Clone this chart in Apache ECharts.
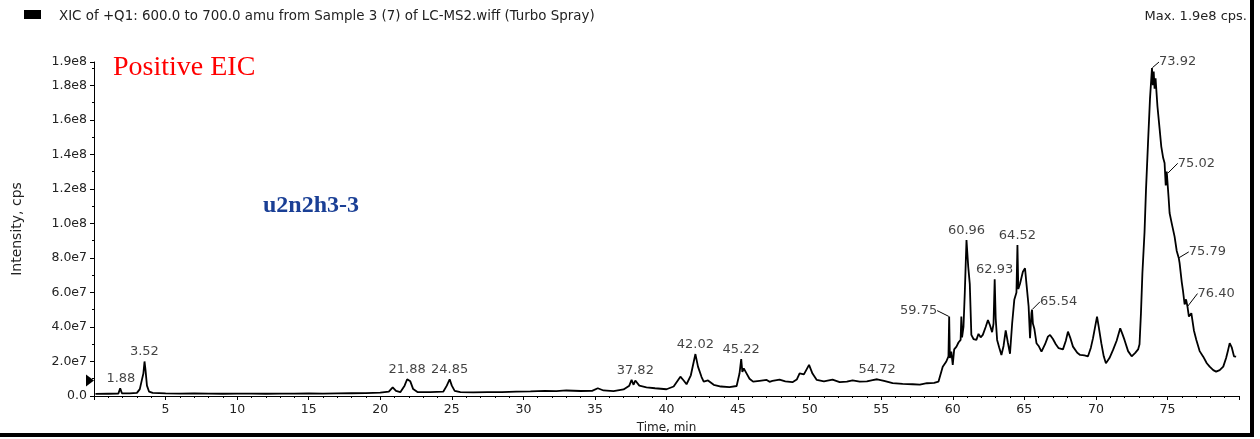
<!DOCTYPE html>
<html><head><meta charset="utf-8">
<script src="https://cdn.jsdelivr.net/npm/echarts@6/dist/echarts.min.js"></script>
<style>html,body{margin:0;padding:0;background:#fff}#c{width:1260px;height:439px}</style>
</head><body><div id="c"></div>
<script>
// ---- data: [time (min), intensity (cps)] ----
const traceEarly = [
  [0.1,1.2e6],[1.0,1.3e6],[1.7,1.4e6],[1.83,4.5e6],[1.95,1.6e6],[2.5,1.5e6],[3.0,1.8e6],[3.2,4.0e6],
  [3.35,9.5e6],[3.45,1.3e7],[3.53,2.0e7],[3.6,1.5e7],[3.7,6.0e6],[3.85,2.5e6],[4.1,1.8e6],[5,1.5e6],
  [6,1.4e6],[7,1.5e6],[8,1.4e6],[9,1.3e6],[10,1.4e6],[11,1.4e6],[12,1.3e6],[13,1.4e6],[14,1.4e6],
  [15,1.5e6],[16,1.4e6],[17,1.5e6],[18,1.6e6],[19,1.7e6],[20,1.9e6],[20.6,2.5e6],[20.87,5.0e6],
  [21.1,3.0e6],[21.4,2.2e6],[21.7,6.0e6],[21.88,9.7e6],[22.1,8.5e6],[22.3,4.0e6],[22.6,2.3e6],
  [23.5,2.2e6],[24.4,2.5e6],[24.65,6.0e6],[24.85,9.7e6],[25.0,6.0e6],[25.2,3.0e6],[25.6,2.2e6],
  [26.5,2.1e6],[27.5,2.2e6],[28.5,2.3e6],[29.5,2.5e6],[30.5,2.7e6],[31.5,3.0e6],[32.3,2.8e6],
  [33.0,3.2e6],[34.0,2.9e6],[34.8,3.0e6],[35.2,4.5e6],[35.6,3.2e6],[36.3,2.8e6]
];
const traceMid = [
  [37.0,3.8e6],[37.4,6.0e6],[37.56,9.3e6],[37.7,6.5e6],[37.82,9.0e6],[38.1,6.0e6],[38.6,5.0e6],
  [39.2,4.5e6],[40.0,3.9e6],[40.5,5.5e6],[40.97,1.12e7],[41.2,9.0e6],[41.4,6.8e6],[41.7,1.2e7],
  [42.02,2.43e7],[42.2,1.7e7],[42.45,1.1e7],[42.6,8.3e6],[42.9,9.0e6],[43.3,6.5e6],[43.8,5.5e6],
  [44.4,5.2e6],[44.9,5.8e6],[45.1,1.3e7],[45.22,2.14e7],[45.3,1.4e7],[45.4,1.6e7],[45.6,1.3e7],[45.8,1.0e7],
  [46.05,8.3e6],[46.5,8.8e6],[47.0,9.3e6],[47.2,8.2e6],[47.4,8.7e6],[47.9,9.5e6],[48.3,8.5e6],[48.8,8.0e6],
  [49.1,9.5e6],[49.3,1.31e7],[49.6,1.25e7],[49.96,1.8e7],[50.2,1.3e7],[50.5,9.3e6],[51.0,8.5e6],
  [51.6,9.5e6],[52.1,8.0e6],[52.6,8.3e6],[53.0,9.0e6],[53.5,8.3e6],[54.0,8.5e6],[54.4,9.2e6],
  [54.72,9.7e6],[55.2,8.8e6],[55.8,7.4e6],[56.5,7.0e6],[57.2,6.8e6],[57.7,6.6e6],[58.2,7.4e6],
  [58.7,7.6e6],[59.0,8.3e6]
];
const traceLate = [
  [59.3,1.7e7],[59.55,2.0e7],[59.7,2.3e7],[59.75,4.6e7],[59.8,2.2e7],[59.9,2.57e7],[60.0,1.8e7],
  [60.1,2.7e7],[60.26,2.86e7],[60.4,3.1e7],[60.55,3.25e7],[60.6,4.6e7],[60.65,3.4e7],[60.75,4.0e7],
  [60.84,5.95e7],[60.96,9.04e7],[61.08,7.5e7],[61.19,6.5e7],[61.3,3.54e7],[61.45,3.3e7],[61.65,3.25e7],
  [61.8,3.6e7],[61.95,3.4e7],[62.1,3.54e7],[62.3,4.0e7],[62.46,4.4e7],[62.6,4.1e7],[62.75,3.7e7],
  [62.85,4.2e7],[62.93,6.76e7],[63.0,4.5e7],[63.1,3.25e7],[63.25,2.8e7],[63.4,2.38e7],[63.55,2.9e7],
  [63.7,3.8e7],[63.85,3.1e7],[64.0,2.45e7],[64.15,4.2e7],[64.3,5.57e7],[64.45,6.0e7],[64.52,8.75e7],
  [64.58,6.2e7],[64.7,6.5e7],[64.9,7.2e7],[65.05,7.4e7],[65.15,6.5e7],[65.3,5.2e7],[65.4,3.35e7],
  [65.5,4.8e7],[65.54,5.0e7],[65.6,4.2e7],[65.7,3.9e7],[65.85,3.06e7],[66.0,2.9e7],[66.2,2.57e7],
  [66.45,3.0e7],[66.65,3.44e7],[66.8,3.54e7],[67.0,3.3e7],[67.2,3.0e7],[67.4,2.77e7],[67.7,2.7e7],
  [67.9,3.2e7],[68.05,3.73e7],[68.2,3.4e7],[68.4,2.86e7],[68.7,2.5e7],[68.9,2.38e7],[69.2,2.35e7],
  [69.45,2.3e7],[69.65,2.8e7],[69.8,3.35e7],[70.08,4.6e7],[70.2,4.0e7],[70.38,3.06e7],[70.55,2.3e7],
  [70.7,1.9e7],[70.95,2.2e7],[71.2,2.67e7],[71.45,3.2e7],[71.7,3.92e7],[71.85,3.6e7],[72.0,3.25e7],
  [72.25,2.6e7],[72.5,2.3e7],[72.75,2.5e7],[72.95,2.7e7]
];
const traceMainPeak = [
  [73.05,3.0e7],[73.15,4.8e7],[73.25,7.1e7],[73.4,9.5e7],[73.5,1.19e8],[73.64,1.46e8],[73.78,1.72e8],
  [73.92,1.9e8],[73.98,1.8e8],[74.04,1.88e8],[74.1,1.78e8],[74.17,1.84e8],[74.3,1.68e8],[74.45,1.55e8],
  [74.57,1.445e8],[74.7,1.38e8],[74.8,1.35e8],[74.88,1.22e8],[74.95,1.3e8],[75.02,1.29e8],[75.08,1.15e8],
  [75.15,1.06e8],[75.3,1.0e8],[75.5,9.23e7],[75.65,8.4e7],[75.79,8.0e7],[75.85,7.7e7],[76.0,6.6e7],
  [76.08,6.14e7],[76.2,5.3e7],[76.3,5.6e7],[76.4,5.18e7],[76.5,4.6e7],[76.67,4.8e7],[76.85,3.8e7],
  [77.02,3.25e7],[77.25,2.6e7],[77.5,2.28e7],[77.75,1.9e7],[77.95,1.7e7],[78.2,1.5e7],[78.4,1.41e7],
  [78.65,1.5e7],[78.9,1.7e7],[79.1,2.2e7],[79.24,2.67e7],[79.35,3.06e7],[79.5,2.8e7],[79.65,2.3e7],
  [79.8,2.28e7]
];
// labelled peaks (label above the peak)
const peakTimes = [1.88, 3.52, 21.88, 24.85, 37.82, 42.02, 45.22, 54.72, 60.96, 62.93, 64.52];
const peakIntensities = [4.5e6, 2.0e7, 9.7e6, 9.7e6, 9.0e6, 2.43e7, 2.14e7, 9.7e6, 9.04e7, 6.76e7, 8.75e7];
// labelled peaks with leader lines
const leaderTimes = [59.75, 65.54, 73.92, 75.02, 75.79, 76.40];
const leaderIntensities = [4.6e7, 5.0e7, 1.9e8, 1.29e8, 8.0e7, 5.18e7];
const leaderSide = ['left', 'right', 'right', 'right', 'right', 'right'];
// threshold marker on the intensity axis
const thresholdMarker = [0, 9.0e6];
// axis ticks
const xTickLabels = ['', '5', '10', '15', '20', '25', '30', '35', '40', '45', '50', '55', '60', '65', '70', '75', ''];
const yTickLabels = ['0.0', '2.0e7', '4.0e7', '6.0e7', '8.0e7', '1.0e8', '1.2e8', '1.4e8', '1.6e8', '1.8e8', '1.9e8'];

const trace = traceEarly.concat(traceMid, traceLate, traceMainPeak);
const peaks = peakTimes.map((t, i) => [t, peakIntensities[i]]);
const leaders = leaderTimes.map((t, i) => [t, leaderIntensities[i]]);

const FONT = '"DejaVu Sans", Verdana, sans-serif';
const chart = echarts.init(document.getElementById('c'), null, {renderer: 'canvas'});
chart.setOption({
  animation: false,
  backgroundColor: '#fff',
  grid: {left: 94, right: 21, top: 62, bottom: 43, containLabel: false, outerBoundsMode: 'none'},
  xAxis: {
    type: 'value', min: 0, max: 80, interval: 5,
    name: 'Time, min', nameLocation: 'middle', nameGap: 26,
    nameTextStyle: {fontFamily: FONT, fontSize: 12, color: '#222'},
    axisLine: {lineStyle: {color: '#000', width: 1}},
    axisTick: {show: true, length: 4, lineStyle: {color: '#000'}},
    minorTick: {show: true, splitNumber: 5, length: 2, lineStyle: {color: '#000'}},
    splitLine: {show: false},
    axisLabel: {fontFamily: FONT, fontSize: 12.5, color: '#222', margin: 7,
      formatter: (v, i) => xTickLabels[i] !== undefined ? xTickLabels[i] : ''}
  },
  yAxis: {
    type: 'value', min: 0, max: 1.935e8, interval: 2e7,
    name: 'Intensity, cps', nameLocation: 'middle', nameGap: 70, nameRotate: 90,
    nameTextStyle: {fontFamily: FONT, fontSize: 14, color: '#222'},
    axisLine: {show: true, lineStyle: {color: '#000', width: 1}},
    axisTick: {show: true, length: 4, lineStyle: {color: '#000'}},
    minorTick: {show: true, splitNumber: 2, length: 2, lineStyle: {color: '#000'}},
    splitLine: {show: false},
    axisLabel: {fontFamily: FONT, fontSize: 12.5, color: '#222', margin: 7,
      formatter: (v, i) => yTickLabels[i] !== undefined ? yTickLabels[i] : ''}
  },
  series: [
    {
      type: 'line', data: trace, symbol: 'none', smooth: false,
      lineStyle: {color: '#000', width: 1.8}, silent: true,
      markPoint: {
        silent: true,
        data: [{coord: thresholdMarker, symbol: 'triangle', symbolRotate: -90,
          symbolSize: [12, 8], symbolOffset: [-4, 0], itemStyle: {color: '#000'}, label: {show: false}}]
      }
    },
    {
      type: 'scatter', data: peaks, symbolSize: 0, silent: true,
      label: {show: true, position: 'top', distance: 3, fontFamily: FONT, fontSize: 13, color: '#111',
        formatter: p => p.value[0].toFixed(2)}
    },
    {
      type: 'scatter', data: leaders, symbolSize: 1, itemStyle: {color: 'rgba(0,0,0,0)'}, silent: true,
      label: {show: true, position: 'right', fontFamily: FONT, fontSize: 13, color: '#111',
        formatter: p => p.value[0].toFixed(2)},
      labelLine: {show: true, lineStyle: {color: '#000', width: 1}},
      labelLayout: function (params) {
        const r = params.rect;
        const cx = r.x + r.width / 2, cy = r.y + r.height / 2;
        const side = leaderSide[params.dataIndex];
        const dys = [-6, -8, -6, -10, -6, -13];
        const dxs = [-12, 8, 7, 10, 10, 10];
        return {
          x: cx + dxs[params.dataIndex], y: cy + dys[params.dataIndex],
          align: side === 'left' ? 'right' : 'left', verticalAlign: 'middle'
        };
      }
    }
  ],
  graphic: [
    {type: 'rect', left: 24, top: 10, shape: {width: 17, height: 9}, style: {fill: '#000'}},
    {type: 'text', left: 59, top: 10, style: {text: 'XIC of +Q1: 600.0 to 700.0 amu from Sample 3 (7) of LC-MS2.wiff (Turbo Spray)',
      font: '13.4px "DejaVu Sans", Verdana, sans-serif', fill: '#222'}},
    {type: 'text', right: 13, top: 10, style: {text: 'Max. 1.9e8 cps.', font: '13px "DejaVu Sans", Verdana, sans-serif', fill: '#222'}},
    {type: 'rect', left: 1250, top: 0, shape: {width: 4, height: 437}, style: {fill: '#000'}},
    {type: 'rect', left: 0, top: 433, shape: {width: 1254, height: 4}, style: {fill: '#000'}},
    {type: 'text', left: 113, top: 54, style: {text: 'Positive EIC', font: '28px "Liberation Serif", "Times New Roman", serif', fill: '#ff0000'}},
    {type: 'text', left: 263, top: 194, style: {text: 'u2n2h3-3', font: 'bold 24px "Liberation Serif", "Times New Roman", serif', fill: '#1a3f95'}}
  ]
});
</script></body></html>
